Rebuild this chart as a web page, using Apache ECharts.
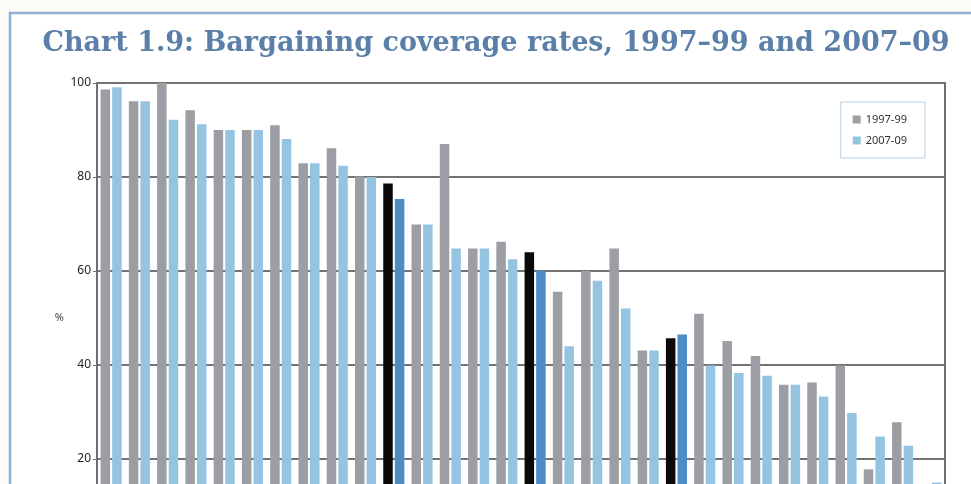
<!DOCTYPE html>
<html>
<head>
<meta charset="utf-8">
<style>
  html, body { margin: 0; padding: 0; background: #fcfbf6; overflow: hidden; height: 484px; }
  /* the reference is cropped just above the zero line, so the chart runs past the window */
  #chartDiv { width: 971px; height: 570px; }
</style>
<script src="https://cdn.jsdelivr.net/npm/echarts@6/dist/echarts.min.js"></script>
</head>
<body>
<div id="chartDiv"></div>
<script>
// values; the last 1997-99 bar falls below the visible area
const categories = ["1", "2", "3", "4", "5", "6", "7", "8", "9", "10",
    "11", "12", "13", "14", "15", "16", "17", "18", "19", "20",
    "21", "22", "23", "24", "25", "26", "27", "28", "29", "30"];
const rates9799 = [98.6, 96.1, 100, 94.2, 90, 90, 91, 82.9, 86.1, 80.1,
    78.6, 69.9, 87, 64.8, 66.2, 64, 55.6, 60, 64.8, 43.1,
    45.7, 50.9, 45.1, 41.9, 35.8, 36.3, 39.9, 17.8, 27.8, 12];
const rates0709 = [99.1, 96.1, 92.2, 91.2, 90, 90, 88.1, 82.9, 82.4, 80,
    75.3, 69.9, 64.8, 64.8, 62.5, 60.1, 44, 57.9, 52, 43.1,
    46.5, 39.9, 38.3, 37.7, 35.8, 33.3, 29.8, 24.8, 22.8, 15];
// averages shown in black / dark blue
const highlighted = [10, 15, 20];
const yTicks = [20, 40, 60, 80, 100];

let chart = echarts.init(document.getElementById("chartDiv"));

function paint(values, normal, special) {
    return values.map(function (v, i) {
        return {
            value: v,
            itemStyle: { color: highlighted.indexOf(i) >= 0 ? special : normal },
        };
    });
}

let options = {
    animation: false,
    backgroundColor: "#fcfbf6",
    graphic: [
        {
            type: "rect",
            shape: { x: 10, y: 13, width: 975, height: 600 },
            style: { fill: "#ffffff", stroke: "#8eb0d2", lineWidth: 2.5 },
            z: -10,
        },
    ],
    title: {
        text: "Chart 1.9: Bargaining coverage rates, 1997–99 and 2007–09",
        left: 491,
        textAlign: "center",
        top: 25,
        textStyle: {
            color: "#5a7fa8",
            fontFamily: "DejaVu Serif",
            fontWeight: "bold",
            fontSize: 27,
        },
    },
    legend: {
        orient: "vertical",
        right: 46,
        top: 102,
        padding: [12, 18, 12, 12],
        itemGap: 10,
        itemWidth: 8,
        itemHeight: 8,
        borderColor: "#b9cfe0",
        borderWidth: 1,
        textStyle: { color: "#333", fontSize: 11, fontFamily: "Noto Sans" },
        data: [
            { name: "1997-99", icon: "rect", itemStyle: { color: "#9d9ea3" } },
            { name: "2007-09", icon: "rect", itemStyle: { color: "#94c4e2" } },
        ],
    },
    grid: {
        left: 97,
        top: 83,
        width: 848,
        height: 470,
        show: true,
        borderColor: "#6f6f6f",
        borderWidth: 2,
    },
    xAxis: {
        type: "category",
        data: categories,
        axisLine: { show: false },
        axisTick: { show: false },
        axisLabel: { show: false },
    },
    yAxis: {
        type: "value",
        min: 0,
        max: 100,
        interval: 20,
        name: "%",
        nameLocation: "middle",
        nameRotate: 0,
        nameGap: 33,
        nameTextStyle: { color: "#444", fontSize: 11, fontFamily: "Noto Sans" },
        axisLine: { show: true, lineStyle: { color: "#6f6f6f", width: 2 } },
        axisTick: { show: true, length: 4, lineStyle: { color: "#6f6f6f" } },
        axisLabel: {
            color: "#222",
            fontSize: 12,
            fontFamily: "Noto Sans",
            margin: 6,
            formatter: function (v) {
                return yTicks.indexOf(v) >= 0 ? String(v) : "";
            },
        },
        splitLine: { show: true, lineStyle: { color: "#737373", width: 2 } },
    },
    series: [
        {
            name: "1997-99",
            type: "bar",
            barWidth: 9.5,
            barGap: "22%",
            data: paint(rates9799, "#9d9ea3", "#0a0a0a"),
        },
        {
            name: "2007-09",
            type: "bar",
            barWidth: 9.5,
            data: paint(rates0709, "#94c4e2", "#4e8cc6"),
        },
    ],
};
chart.setOption(options);
</script>
</body>
</html>
